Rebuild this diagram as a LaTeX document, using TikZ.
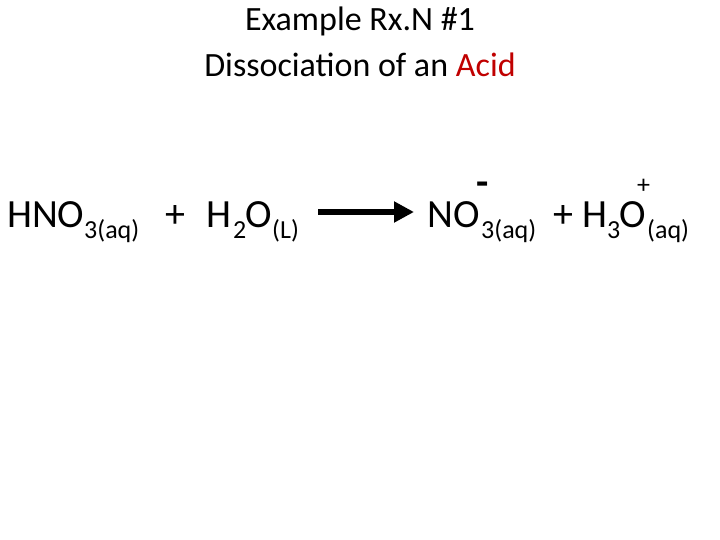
\documentclass[tikz,border=0pt]{standalone}
\usepackage{fontspec}
\setmainfont{Carlito}
\usetikzlibrary{arrows.meta,positioning}
\definecolor{acidred}{RGB}{192,0,0}
\tikzset{
    eqn/.style={anchor=base west,inner sep=0pt,font=\fontsize{40}{44}\selectfont},
    sub/.style={anchor=base west,inner sep=0pt,font=\fontsize{26}{30}\selectfont},
    ttl/.style={inner sep=0pt,font=\fontsize{34}{38}\selectfont}
}
\begin{document}
\begin{tikzpicture}[x=1pt,y=-1pt]
    \useasboundingbox (0,0) rectangle (720,540);
    \node[ttl] (t1) at (360,21) {Example Rx.N \#1};
    \node[ttl] (t2) at (360,65) {Dissociation of an \textcolor{acidred}{Acid}};
    % reactants
    \node[eqn] (hno) at (7,228) {HNO};
    \node[sub] (hnos) at (84,238) {3(aq)};
    \node[eqn] (plusa) at (165,228) {+};
    \node[eqn] (h2o) at (206,228) {H};
    \node[sub] (h2os) at (233,238) {2};
    \node[eqn] (h2oo) at (245,228) {O};
    \node[sub] (h2ol) at (272,238) {(L)};
    % arrow
    \coordinate (arra) at (318,212);
    \coordinate (arrb) at (414,212);
    \draw[line width=6pt,-{Triangle[length=20pt,width=20pt]}] (arra) -- (arrb);
    % products
    \node[eqn] (no) at (427,228) {NO};
    \node[sub] (nos) at (481,238) {3(aq)};
    \node[eqn,font=\fontsize{40}{44}\selectfont\bfseries] (minus) at (476,196) {-};
    \node[eqn] (plusb) at (553,228) {+};
    \node[eqn] (h3o) at (582,228) {H};
    \node[sub] (h3os) at (607,238) {3};
    \node[eqn] (h3oo) at (619,228) {O};
    \node[sub] (h3op) at (637,194) {+};
    \node[sub] (h3oa) at (647,238) {(aq)};
\end{tikzpicture}
\end{document}
